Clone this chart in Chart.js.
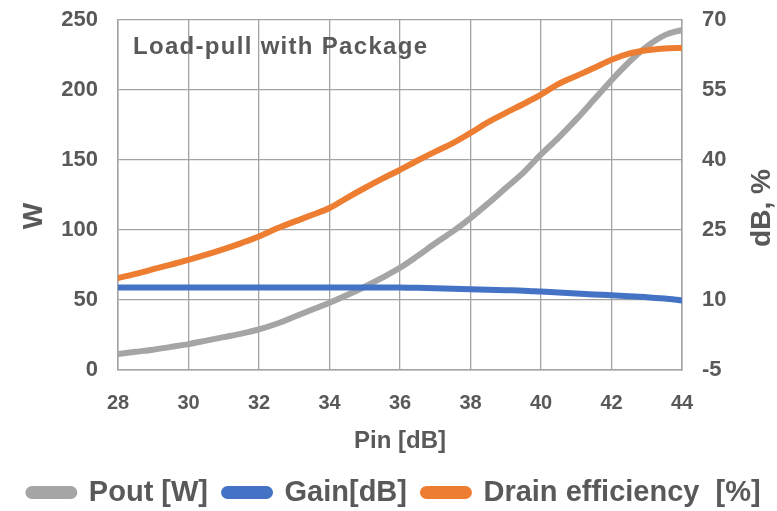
<!DOCTYPE html>
<html>
<head>
<meta charset="utf-8">
<script src="https://cdn.jsdelivr.net/npm/chart.js@4.4.1/dist/chart.umd.min.js"></script>
<style>
  html, body { margin: 0; padding: 0; background: #fff; overflow: hidden; }
  #wrap { width: 777px; height: 511px; }
</style>
</head>
<body>
<div id="wrap"><canvas id="loadPullChart"></canvas></div>
<script>
// input power sweep [dB]
const pin = [28, 28.5, 29, 29.5, 30, 30.5, 31, 31.5, 32, 32.5, 33, 33.5, 34, 34.5, 35, 35.5,
  36, 36.5, 37, 37.5, 38, 38.5, 39, 39.5, 40, 40.5, 41, 41.5, 42, 42.5, 43, 43.5, 44];

const pout = [11.5, 13, 14.5, 16.5, 18.5, 21, 23.5, 26, 29, 33, 38, 43, 48, 53.5, 59.5, 66,
  73, 81.5, 90.5, 99, 108.5, 119, 130, 141, 154, 166, 179, 193, 207, 220, 231, 239, 243];

const gain = [12.7, 12.7, 12.7, 12.7, 12.7, 12.7, 12.7, 12.7, 12.7, 12.7, 12.7, 12.7, 12.7, 12.7, 12.7, 12.7,
  12.7, 12.6, 12.5, 12.4, 12.3, 12.2, 12.1, 12.0, 11.8, 11.6, 11.4, 11.2, 11.0, 10.8, 10.6, 10.3, 9.9];

const drainEff = [14.7, 15.6, 16.6, 17.6, 18.6, 19.7, 20.9, 22.2, 23.6, 25.3, 26.8, 28.2, 29.7, 31.9, 34, 36,
  37.9, 39.9, 41.8, 43.6, 45.8, 48.1, 50.1, 52, 54, 56.3, 58, 59.7, 61.5, 62.8, 63.5, 63.9, 64];

const seriesNames = ["Pout [W]", "Gain[dB]", "Drain efficiency  [%]"];
const xTicks = [28, 30, 32, 34, 36, 38, 40, 42, 44];
const leftTicks = [0, 50, 100, 150, 200, 250];
const rightTicks = [-5, 10, 25, 40, 55, 70];

const xTitle = "Pin [dB]";
const leftTitle = "W";
const rightTitle = "dB, %";
const plotNote = "Load-pull with Package";

const textColor = "#595959";
const gridColor = "#a3a3a3";
const fontFamily = '"Liberation Sans", Arial, sans-serif';

function points(ys) {
  return ys.map((y, i) => ({ x: pin[i], y: y }));
}

// axis titles that read bottom-to-top on both sides, plus the note inside the plot
const extraText = {
  id: "extraText",
  afterDraw(chart) {
    const ctx = chart.ctx;
    const area = chart.chartArea;
    ctx.save();
    ctx.fillStyle = textColor;
    ctx.textBaseline = "middle";
    ctx.textAlign = "left";
    ctx.font = "bold 24px " + fontFamily;
    ctx.letterSpacing = "1.3px";
    ctx.fillText(plotNote, area.left + 15, area.top + 27);
    ctx.letterSpacing = "0px";

    ctx.font = "bold 28px " + fontFamily;
    ctx.textAlign = "center";
    ctx.save();
    ctx.translate(34, 216);
    ctx.rotate(-Math.PI / 2);
    ctx.fillText(leftTitle, 0, 0);
    ctx.restore();

    ctx.save();
    ctx.translate(762, 208);
    ctx.rotate(-Math.PI / 2);
    ctx.fillText(rightTitle, 0, 0);
    ctx.restore();
    ctx.restore();
  }
};

const ctx = document.getElementById("loadPullChart");

new Chart(ctx, {
  type: "line",
  data: {
    datasets: [
      {
        label: seriesNames[0],
        data: points(pout),
        yAxisID: "yW",
        borderColor: "#a5a5a5",
        backgroundColor: "#a5a5a5",
        order: 3
      },
      {
        label: seriesNames[1],
        data: points(gain),
        yAxisID: "yDb",
        borderColor: "#4472c4",
        backgroundColor: "#4472c4",
        order: 2
      },
      {
        label: seriesNames[2],
        data: points(drainEff),
        yAxisID: "yDb",
        borderColor: "#ed7d31",
        backgroundColor: "#ed7d31",
        order: 1
      }
    ]
  },
  options: {
    responsive: true,
    maintainAspectRatio: false,
    animation: false,
    layout: { padding: { top: 20, left: 12, right: 0, bottom: -6 } },
    elements: {
      line: { borderWidth: 6, tension: 0.4, cubicInterpolationMode: "monotone", borderCapStyle: "round", borderJoinStyle: "round" },
      point: { radius: 0, hoverRadius: 0 }
    },
    plugins: {
      tooltip: { enabled: false },
      legend: {
        position: "bottom",
        labels: {
          sort: (a, b) => a.datasetIndex - b.datasetIndex,
          color: textColor,
          font: { family: fontFamily, size: 29, weight: "bold" },
          boxWidth: 46,
          boxHeight: 7,
          useBorderRadius: true,
          borderRadius: 3.5,
          padding: 16
        }
      }
    },
    scales: {
      x: {
        type: "linear",
        min: 28,
        max: 44,
        afterBuildTicks: (scale) => { scale.ticks = xTicks.map(v => ({ value: v })); },
        afterFit: (scale) => { scale.height = 92; },
        grid: { color: gridColor, lineWidth: 1.3, drawTicks: false },
        border: { color: gridColor, width: 1.5 },
        ticks: {
          color: textColor,
          padding: 21,
          font: { family: fontFamily, size: 20, weight: "bold" }
        },
        title: {
          display: true,
          text: xTitle,
          color: textColor,
          font: { family: fontFamily, size: 24, weight: "bold" },
          padding: { top: 0, bottom: 6 }
        }
      },
      yW: {
        type: "linear",
        position: "left",
        min: 0,
        max: 250,
        afterBuildTicks: (scale) => { scale.ticks = leftTicks.map(v => ({ value: v })); },
        afterFit: (scale) => { scale.width = 106; },
        grid: { color: gridColor, lineWidth: 1.3, drawTicks: true, tickLength: 20, tickColor: "rgba(0,0,0,0)" },
        border: { color: gridColor, width: 1.5 },
        ticks: {
          color: textColor,
          padding: 0,
          font: { family: fontFamily, size: 22, weight: "bold" }
        }
      },
      yDb: {
        type: "linear",
        position: "right",
        min: -5,
        max: 70,
        afterBuildTicks: (scale) => { scale.ticks = rightTicks.map(v => ({ value: v })); },
        afterFit: (scale) => { scale.width = 95; },
        grid: { drawOnChartArea: false, drawTicks: true, tickLength: 20, tickColor: "rgba(0,0,0,0)" },
        border: { color: gridColor, width: 1.5 },
        ticks: {
          color: textColor,
          padding: 0,
          font: { family: fontFamily, size: 22, weight: "bold" }
        }
      }
    }
  },
  plugins: [extraText]
});
</script>
</body>
</html>
